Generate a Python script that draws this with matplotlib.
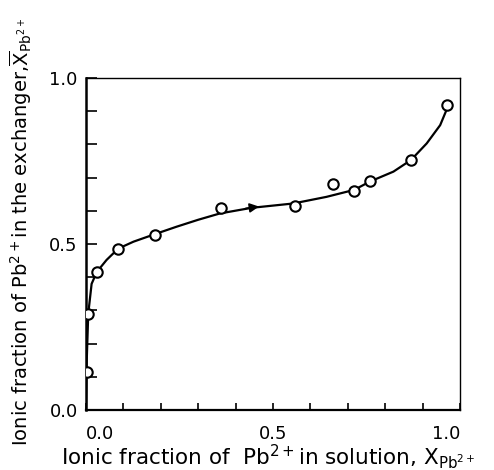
import numpy as np
import matplotlib
matplotlib.use("Agg")
import matplotlib.pyplot as plt
from matplotlib.ticker import MultipleLocator, FixedLocator

# measured points (open circles)
x_sol = [0.002, 0.006, 0.029, 0.086, 0.185, 0.360, 0.559, 0.660, 0.717, 0.759, 0.869, 0.964]
x_exch = [0.115, 0.290, 0.416, 0.486, 0.527, 0.607, 0.615, 0.680, 0.660, 0.690, 0.753, 0.920]

# hand drawn isotherm
curve_x = [0.0, 0.002, 0.006, 0.015, 0.029, 0.055, 0.086, 0.127, 0.185, 0.242, 0.300, 0.358,
           0.443, 0.554, 0.643, 0.717, 0.759, 0.822, 0.869, 0.911, 0.947, 0.964]
curve_y = [0.01, 0.15, 0.29, 0.38, 0.416, 0.452, 0.486, 0.507, 0.530, 0.552, 0.573, 0.592,
           0.609, 0.622, 0.642, 0.663, 0.688, 0.718, 0.753, 0.803, 0.858, 0.904]

tick_labels = ["0.0", "0.5", "1.0"]

plt.rcParams['font.family'] = ['DejaVu Sans']
plt.rcParams['mathtext.fontset'] = 'dejavusans'

W, H = 494, 470
fig = plt.figure(figsize=(W / 100, H / 100), dpi=100)
ax = fig.add_axes([86 / W, 1 - 410 / H, 374 / W, 332 / H])

ax.plot(curve_x, curve_y, color='black', lw=1.6, zorder=2)
ax.plot(x_sol, x_exch, 'o', ms=7.5, mfc='white', mec='black', mew=1.5, zorder=3)

# small arrow head on the curve
ax.annotate('', xy=(0.47, 0.614), xytext=(0.42, 0.606),
            arrowprops=dict(arrowstyle='-|>', color='black', lw=1.2, mutation_scale=14))

ax.set_xlim(0, 1.0)
ax.set_ylim(0, 1.0)

ax.xaxis.set_major_locator(FixedLocator([0.0, 0.5, 1.0]))
ax.yaxis.set_major_locator(FixedLocator([0.0, 0.5, 1.0]))
ax.set_xticklabels(tick_labels)
ax.set_yticklabels(tick_labels)
ax.xaxis.set_minor_locator(MultipleLocator(0.1))
ax.yaxis.set_minor_locator(MultipleLocator(0.1))

ax.tick_params(which='both', direction='in', top=False, right=False, width=1.2)
ax.tick_params(axis='x', which='both', length=5, pad=11, labelsize=13)
ax.tick_params(axis='y', which='both', length=8, pad=6, labelsize=13)

# the x tick labels sit inward of the end ticks in the original
xt = ax.get_xticklabels()
xt[0].set_ha('left')
xt[2].set_ha('right')

ax.spines['left'].set_linewidth(1.8)
ax.spines['bottom'].set_linewidth(1.6)
ax.spines['top'].set_linewidth(1.0)
ax.spines['right'].set_linewidth(1.0)

fig.text(268 / W, 1 - 457 / H,
         r'Ionic fraction of  Pb$^{2+}$in solution, X$_{\mathrm{Pb}^{2+}}$',
         fontsize=15.5, ha='center', va='center')
fig.text(21 / W, 1 - 232 / H,
         r'Ionic fraction of Pb$^{2+}$in the exchanger,$\overline{\mathrm{X}}_{\mathrm{Pb}^{2+}}$',
         fontsize=14, ha='center', va='center', rotation=90)

plt.savefig('out.png', dpi=100)
